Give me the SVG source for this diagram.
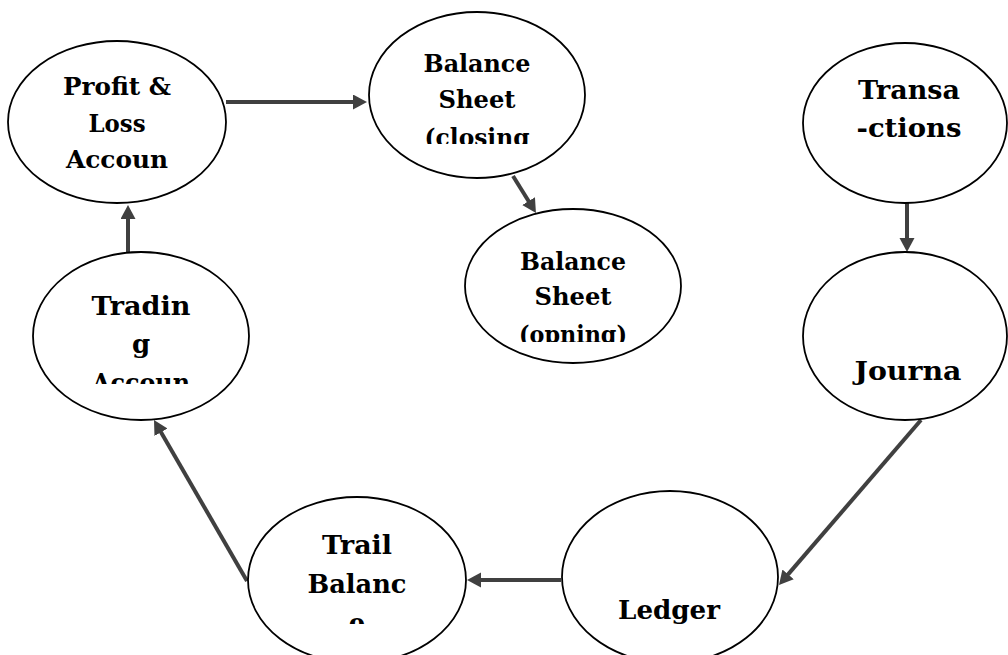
<svg xmlns="http://www.w3.org/2000/svg" width="1008" height="655" viewBox="0 0 1008 655">
<style>
.node ellipse{fill:#fff;stroke:#000;stroke-width:1.8}
.node text{font-family:"DejaVu Serif","Liberation Serif",serif;font-weight:bold;fill:#000;text-anchor:middle}
.s text{font-size:24px}
.b text{font-size:26px}
#connectors line{stroke:#404040;stroke-width:4;marker-end:url(#ah)}
</style>
<defs>
<marker id="ah" markerUnits="userSpaceOnUse" markerWidth="16" markerHeight="16" refX="4" refY="7.5" orient="auto"><path d="M0,0 L14,7.5 L0,15 z" fill="#404040"/></marker>
<clipPath id="c2"><rect x="360" y="0" width="240" height="144"/></clipPath>
<clipPath id="c3"><rect x="460" y="200" width="240" height="142"/></clipPath>
<clipPath id="c6"><rect x="30" y="250" width="230" height="134"/></clipPath>
<clipPath id="c7"><rect x="240" y="490" width="240" height="134"/></clipPath>
</defs>
<rect width="1008" height="655" fill="#fff"/>
<g id="connectors">
<line x1="226" y1="102" x2="357" y2="102"/>
<line x1="513" y1="176" x2="530.7" y2="204.5"/>
<line x1="907" y1="203" x2="907" y2="242"/>
<line x1="921" y1="420" x2="785.5" y2="577.4"/>
<line x1="561" y1="580" x2="477" y2="580"/>
<line x1="247" y1="581" x2="159" y2="428.7"/>
<line x1="128" y1="252" x2="128" y2="215"/>
</g>
<g id="profit-loss" class="node s">
<ellipse cx="117" cy="122" rx="109" ry="81"/>
<text x="117" y="95" textLength="108" lengthAdjust="spacingAndGlyphs">Profit &amp;</text>
<text x="117" y="132" textLength="57" lengthAdjust="spacingAndGlyphs">Loss</text>
<text x="117" y="168" textLength="102" lengthAdjust="spacingAndGlyphs">Accoun</text>
</g>
<g id="bs-closing" class="node s">
<ellipse cx="477" cy="95" rx="108" ry="83"/>
<g clip-path="url(#c2)">
<text x="477" y="72" textLength="107" lengthAdjust="spacingAndGlyphs">Balance</text>
<text x="477" y="108" textLength="77" lengthAdjust="spacingAndGlyphs">Sheet</text>
<text x="477" y="146" textLength="105" lengthAdjust="spacingAndGlyphs">(closing</text>
</g>
</g>
<g id="bs-opening" class="node s">
<ellipse cx="573" cy="286" rx="108" ry="77"/>
<g clip-path="url(#c3)">
<text x="573" y="270" textLength="106" lengthAdjust="spacingAndGlyphs">Balance</text>
<text x="573" y="305" textLength="77" lengthAdjust="spacingAndGlyphs">Sheet</text>
<text x="573" y="343" textLength="108" lengthAdjust="spacingAndGlyphs">(opning)</text>
</g>
</g>
<g id="transactions" class="node b">
<ellipse cx="905" cy="123" rx="102" ry="80"/>
<text x="909" y="99" textLength="102" lengthAdjust="spacingAndGlyphs">Transa</text>
<text x="909" y="137" textLength="105" lengthAdjust="spacingAndGlyphs">-ctions</text>
</g>
<g id="journal" class="node b">
<ellipse cx="905" cy="336" rx="102" ry="84"/>
<text x="908" y="380" textLength="107" lengthAdjust="spacingAndGlyphs">Journa</text>
</g>
<g id="ledger" class="node b">
<ellipse cx="670" cy="577" rx="108" ry="86"/>
<text x="669" y="619" textLength="102" lengthAdjust="spacingAndGlyphs">Ledger</text>
</g>
<g id="trail-balance" class="node b">
<ellipse cx="357" cy="580" rx="109" ry="83"/>
<g clip-path="url(#c7)">
<text x="357" y="554" textLength="70" lengthAdjust="spacingAndGlyphs">Trail</text>
<text x="357" y="593" textLength="99" lengthAdjust="spacingAndGlyphs">Balanc</text>
<text x="357" y="632">e</text>
</g>
</g>
<g id="trading" class="node b">
<ellipse cx="141" cy="336" rx="108" ry="84"/>
<g clip-path="url(#c6)">
<text x="141" y="315" textLength="99" lengthAdjust="spacingAndGlyphs">Tradin</text>
<text x="141" y="353">g</text>
<text x="141" y="392" textLength="98" lengthAdjust="spacingAndGlyphs">Accoun</text>
</g>
</g>
</svg>
